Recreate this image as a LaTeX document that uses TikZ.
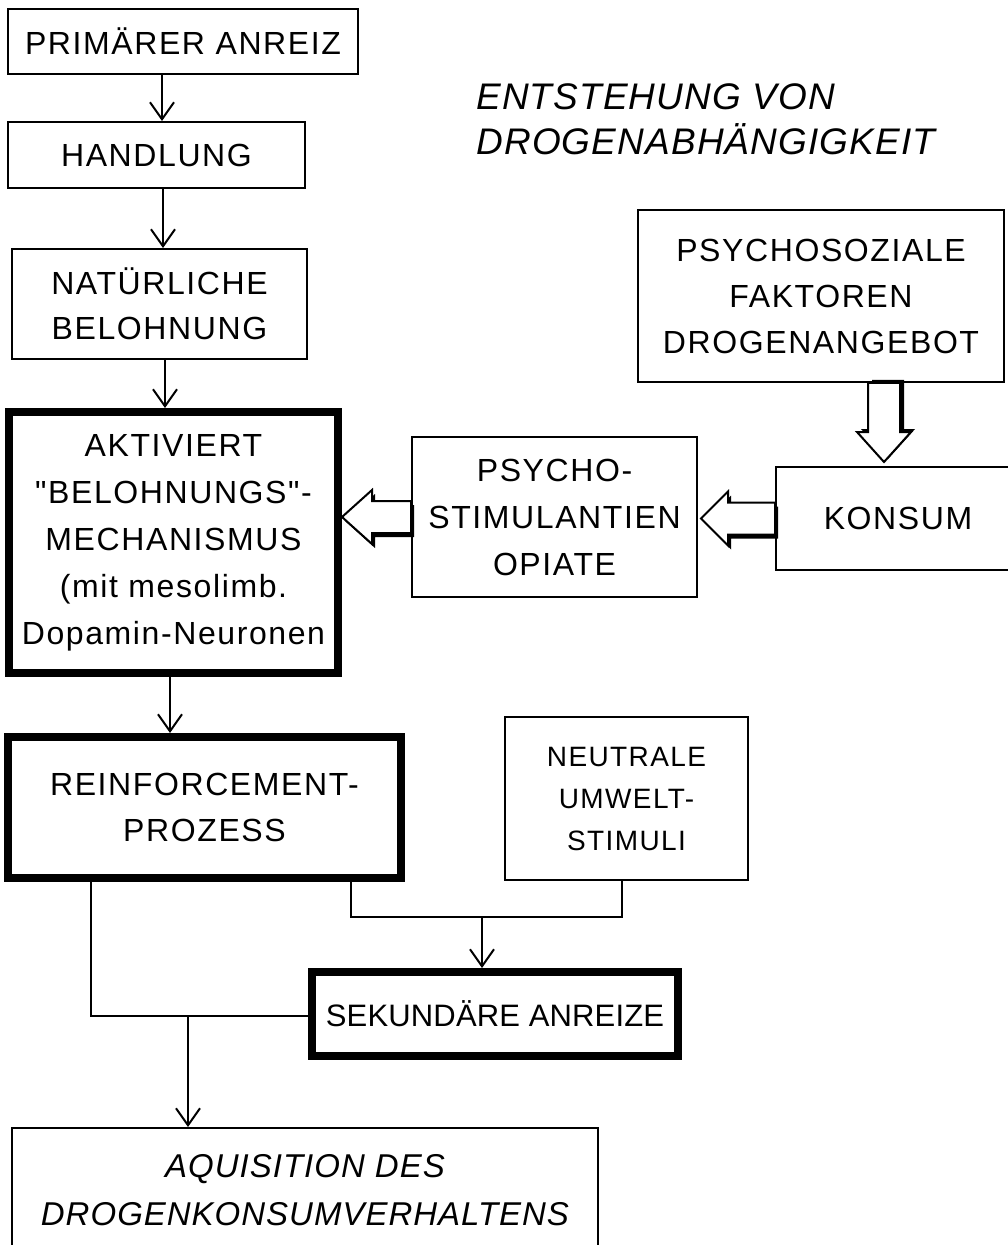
\documentclass[tikz,border=0pt]{standalone}
\usepackage{fontspec}
\setmainfont{Liberation Sans}
\newfontfamily\upf{Liberation Sans}[LetterSpace=5]
\newfontfamily\upz{Liberation Sans}[LetterSpace=0.5]
\newfontfamily\itf{Liberation Sans}[LetterSpace=3]
\usetikzlibrary{arrows.meta,calc}
\tikzset{
  box/.style={draw, line width=1pt, inner sep=0pt, align=center,
    font=\upf\fontsize{16}{23.5}\selectfont},
  thickbox/.style={box, line width=4pt},
  arr/.style={line width=1pt, -{Straight Barb[length=8.5pt,width=12pt]}},
  conn/.style={line width=1pt},
  pics/hollow/.style args={#1/#2}{code={
    \fill[black, shift={(-3,-4)}] (0,-16) -- ({#1-#2},-16) -- ({#1-#2},-27) -- (#1,0)
      -- ({#1-#2},27) -- ({#1-#2},16) -- (0,16) -- cycle;
    \draw[line width=1pt, fill=white, line join=miter] (0,-16) -- ({#1-#2},-16) -- ({#1-#2},-27) -- (#1,0)
      -- ({#1-#2},27) -- ({#1-#2},16) -- (0,16) -- cycle;
  }}
}
\begin{document}
\begin{tikzpicture}[x=0.5pt,y=-0.5pt]
\useasboundingbox (0,0) rectangle (1007,1245);
\fill[white] (0,0) rectangle (1007,1245);

% boxes
\node[box, minimum width=175pt, minimum height=32.5pt] (A) at (183,41.5) {PRIMÄRER ANREIZ};
\node[box, minimum width=148.5pt, minimum height=33pt] (B) at (156.5,155) {HANDLUNG};
\node[box, minimum width=147.5pt, minimum height=55pt, font=\upf\fontsize{16}{22.5}\selectfont] (C) at (159.5,304) {NATÜRLICHE\\BELOHNUNG};
\node[thickbox, minimum width=164.5pt, minimum height=130.5pt] (D) at (173.5,542.5)
  {AKTIVIERT\\"BELOHNUNGS"-\\MECHANISMUS\\(mit mesolimb.\\Dopamin-Neuronen};
\node[box, minimum width=142.5pt, minimum height=80pt] (E) at (554.5,517) {PSYCHO-\\STIMULANTIEN\\OPIATE};
\node[box, minimum width=122pt, minimum height=51.5pt] (F) at (898,518.5) {KONSUM};
\node[box, minimum width=183pt, minimum height=86pt, font=\upf\fontsize{16}{23}\selectfont] (G) at (821,296)
  {PSYCHOSOZIALE\\FAKTOREN\\DROGENANGEBOT};
\node[thickbox, minimum width=196.5pt, minimum height=70.5pt, font=\upf\fontsize{16}{23}\selectfont] (H) at (204.5,807.5)
  {REINFORCEMENT-\\PROZESS};
\node[box, minimum width=121.5pt, minimum height=81.5pt, font=\upf\fontsize{14}{21}\selectfont] (I) at (626.5,798.5)
  {NEUTRALE\\UMWELT-\\STIMULI};
\node[thickbox, minimum width=183pt, minimum height=42pt, font=\upz\fontsize{15.5}{20}\selectfont] (J) at (495,1014) {SEKUNDÄRE ANREIZE};
\node[box, minimum width=293pt, minimum height=62pt, font=\itf\itshape\fontsize{16.5}{24}\selectfont] (K) at (305,1190)
  {AQUISITION DES\\DROGENKONSUMVERHALTENS};

% title
\node[anchor=west, align=left, inner sep=0pt, font=\itf\itshape\fontsize{18.5}{22.5}\selectfont] (T) at (476,119.5)
  {ENTSTEHUNG VON\\DROGENABHÄNGIGKEIT};

% thin arrows
\coordinate (xa) at (162,0);
\coordinate (xb) at (163,0);
\coordinate (xc) at (165,0);
\coordinate (xd) at (170,0);
\draw[arr] (A.south -| xa) -- (B.north -| xa);
\draw[arr] (B.south -| xb) -- (C.north -| xb);
\draw[arr] (C.south -| xc) -- (D.north -| xc);
\draw[arr] (D.south -| xd) -- (H.north -| xd);

% bottom connectors
\coordinate (h1) at (351,917);
\coordinate (h2) at (622,917);
\coordinate (m1) at (482,917);
\draw[conn] (H.south -| h1) -- (h1) -- (h2) -- (I.south -| h2);
\draw[arr] (m1) -- (J.north -| m1);
\coordinate (k1) at (91,1016);
\coordinate (m2) at (188,1016);
\draw[conn] (H.south -| k1) -- (k1) -- (J.west |- k1);
\draw[arr] (m2) -- (K.north -| m2);

% hollow arrows
\coordinate (g1) at (884,0);
\pic[rotate=180] at (E.west) {hollow=69/30};
\pic[rotate=180] at (F.west) {hollow=74/27};
\pic[rotate=-90] at (G.south -| g1) {hollow=79/30};
\end{tikzpicture}
\end{document}
